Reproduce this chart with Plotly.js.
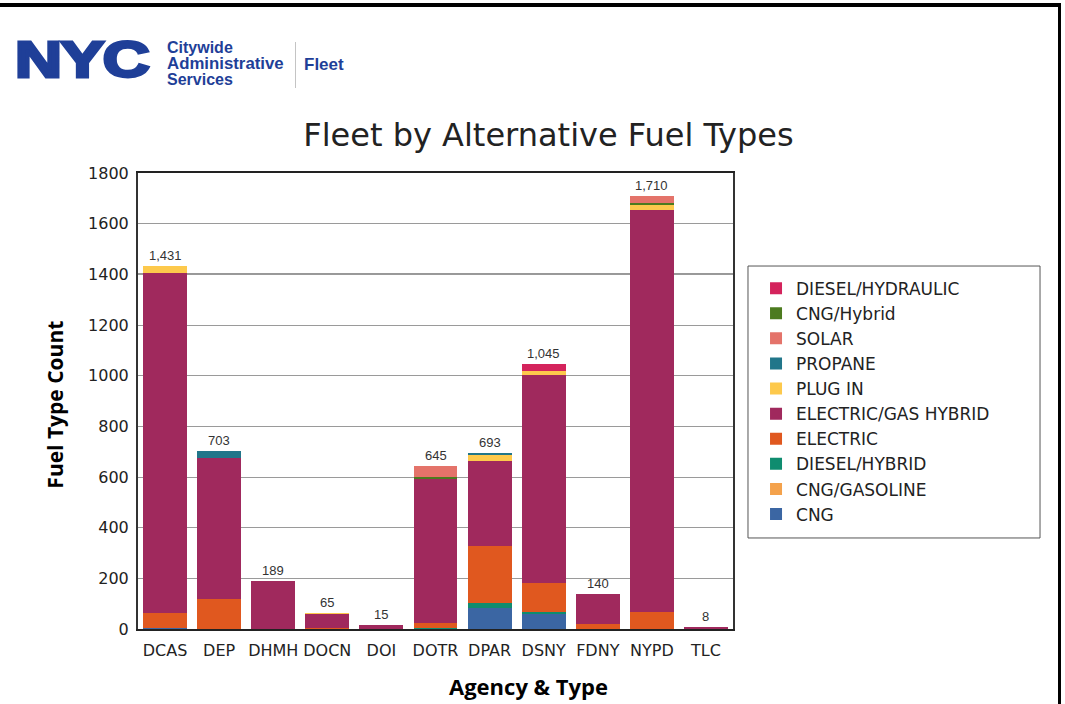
<!DOCTYPE html>
<html>
<head>
<meta charset="utf-8">
<script src="https://cdn.plot.ly/plotly-3.0.1.min.js"></script>
<style>
  html, body { margin:0; padding:0; background:#fff; }
  #wrap { position:relative; width:1065px; height:704px; overflow:hidden; }
  #chart { position:absolute; left:0; top:0; width:1065px; height:704px; }
  #frame { position:absolute; left:-5px; top:3px; width:1066px; height:720px; border-top:4px solid #000; border-right:3px solid #000; box-sizing:border-box; pointer-events:none; }
  .logo { position:absolute; color:#1f3f98; font-family:'Liberation Sans', Arial, sans-serif; font-weight:bold; white-space:nowrap; }
  .sm { font-size:16px; line-height:16px; }
</style>
</head>
<body>
<div id="wrap">
  <div id="chart"></div>
  <div id="frame"></div>
  <div class="logo" style="left:15px;top:35px;font-size:50px;line-height:50px;font-weight:900;transform:scaleX(1.3);transform-origin:left top;letter-spacing:-1px;-webkit-text-stroke:3px #1f3f98;">NYC</div>
  <div class="logo sm" style="left:167px;top:40px;">Citywide</div>
  <div class="logo sm" style="left:167px;top:56px;transform:scaleX(1.05);transform-origin:left top;">Administrative</div>
  <div class="logo sm" style="left:167px;top:72px;">Services</div>
  <div style="position:absolute;left:295px;top:42px;width:1px;height:46px;background:#c4c4c4;"></div>
  <div class="logo sm" style="left:304px;top:57px;font-size:17px;">Fleet</div>
</div>
<script>
const agencies = ["DCAS","DEP","DHMH","DOCN","DOI","DOTR","DPAR","DSNY","FDNY","NYPD","TLC"];

// series values (stacked bottom -> top)
const cng            = [3, 0, 0, 0, 0, 0, 83, 59, 0, 0, 0];
const cngGasoline    = [0, 0, 0, 0, 0, 0, 0, 0, 0, 0, 0];
const dieselHybrid   = [0, 0, 0, 0, 0, 4, 20, 10, 0, 0, 0];
const electric       = [59, 118, 0, 3, 0, 20, 226, 114, 20, 68, 0];
const elecGasHybrid  = [1345, 557, 189, 57, 15, 570, 336, 819, 117, 1587, 8];
const plugIn         = [24, 0, 0, 5, 0, 0, 21, 17, 3, 20, 0];
const propane        = [0, 28, 0, 0, 0, 0, 7, 0, 0, 0, 0];
const cngHybrid      = [0, 0, 0, 0, 0, 6, 0, 0, 0, 7, 0];
const solar          = [0, 0, 0, 0, 0, 45, 0, 0, 0, 28, 0];
const dieselHydraulic= [0, 0, 0, 0, 0, 0, 0, 26, 0, 0, 0];

const seriesNames = ["CNG","CNG/GASOLINE","DIESEL/HYBRID","ELECTRIC","ELECTRIC/GAS HYBRID","PLUG IN","PROPANE","CNG/Hybrid","SOLAR","DIESEL/HYDRAULIC"];
const seriesValues = [cng, cngGasoline, dieselHybrid, electric, elecGasHybrid, plugIn, propane, cngHybrid, solar, dieselHydraulic];
const seriesColors = ["#3b66a3","#f4a24c","#0f8c6f","#e0581f","#a0295d","#fdc94c","#21768a","#4c7b1f","#e4736a","#d4235c"];
const legendRanks  = [10, 9, 8, 7, 6, 5, 4, 2, 3, 1];

const traces = seriesNames.map((n, i) => ({
  type: "bar",
  name: n,
  x: agencies,
  y: seriesValues[i],
  marker: { color: seriesColors[i], line: { width: 0 } },
  legendrank: legendRanks[i],
  hoverinfo: "name+y"
}));

const totals = agencies.map((a, j) => seriesValues.reduce((s, arr) => s + arr[j], 0));

const annotations = agencies.map((a, j) => ({
  x: a, y: totals[j], xref: "x", yref: "y",
  text: totals[j].toLocaleString("en-US"),
  showarrow: false, yanchor: "bottom", yshift: 1,
  font: { family: "Liberation Sans, Arial, sans-serif", size: 13, color: "#333" }
}));

annotations.push({
  xref: "paper", yref: "paper", x: 0.657, y: -0.125,
  text: "<b>Agency & Type</b>", showarrow: false,
  xanchor: "center", yanchor: "middle",
  font: { family: "Open Sans, sans-serif", size: 22, color: "#000" }
});
annotations.push({
  xref: "paper", yref: "paper", x: -0.1395, y: 0.492,
  text: "<b>Fuel Type Count</b>", showarrow: false, textangle: -90,
  xanchor: "center", yanchor: "middle",
  font: { family: "Open Sans, sans-serif", size: 21, color: "#000" }
});

const layout = {
  width: 1065, height: 704,
  paper_bgcolor: "#fff", plot_bgcolor: "#fff",
  margin: { l: 138, r: 332, t: 173, b: 75, pad: 0 },
  barmode: "stack",
  bargap: 0.187,
  title: {
    text: "Fleet by Alternative Fuel Types",
    x: 0.515, xref: "container", xanchor: "center",
    y: 0.808, yref: "container", yanchor: "middle",
    font: { family: "DejaVu Sans, sans-serif", size: 32, color: "#222" }
  },
  xaxis: {
    type: "category",
    tickfont: { family: "DejaVu Sans, sans-serif", size: 16, color: "#222" },
    tickangle: 0,
    showline: true, linecolor: "#222", linewidth: 2, mirror: true,
    ticks: "", showgrid: false, ticklabelstandoff: 6
  },
  yaxis: {
    range: [0, 1800], dtick: 200,
    tickfont: { family: "DejaVu Sans, sans-serif", size: 16, color: "#222" },
    showline: true, linecolor: "#333", linewidth: 2, mirror: true,
    showgrid: true, gridcolor: "#9a9a9a", gridwidth: 1,
    zeroline: false, ticks: "", ticklabelstandoff: 4
  },
  legend: {
    x: 1.0387, xanchor: "left", y: 0.786, yanchor: "top",
    borderwidth: 0, bgcolor: "rgba(0,0,0,0)",
    font: { family: "DejaVu Sans, sans-serif", size: 17, color: "#222" },
    traceorder: "normal",
    itemwidth: 30
  },
  shapes: [
    { type: "rect", xref: "paper", yref: "paper", x0: 1.0252, x1: 1.516, y0: 0.1996, y1: 0.796,
      line: { color: "#555", width: 1 }, fillcolor: "rgba(0,0,0,0)", layer: "below" },
    { type: "line", xref: "paper", yref: "y", x0: 0, x1: 1, y0: 1400, y1: 1400,
      line: { color: "#333", width: 1.5 }, layer: "below" }
  ],
  annotations: annotations,
  showlegend: true
};

Plotly.newPlot("chart", traces, layout, { displayModeBar: false, staticPlot: true });
</script>
</body>
</html>
